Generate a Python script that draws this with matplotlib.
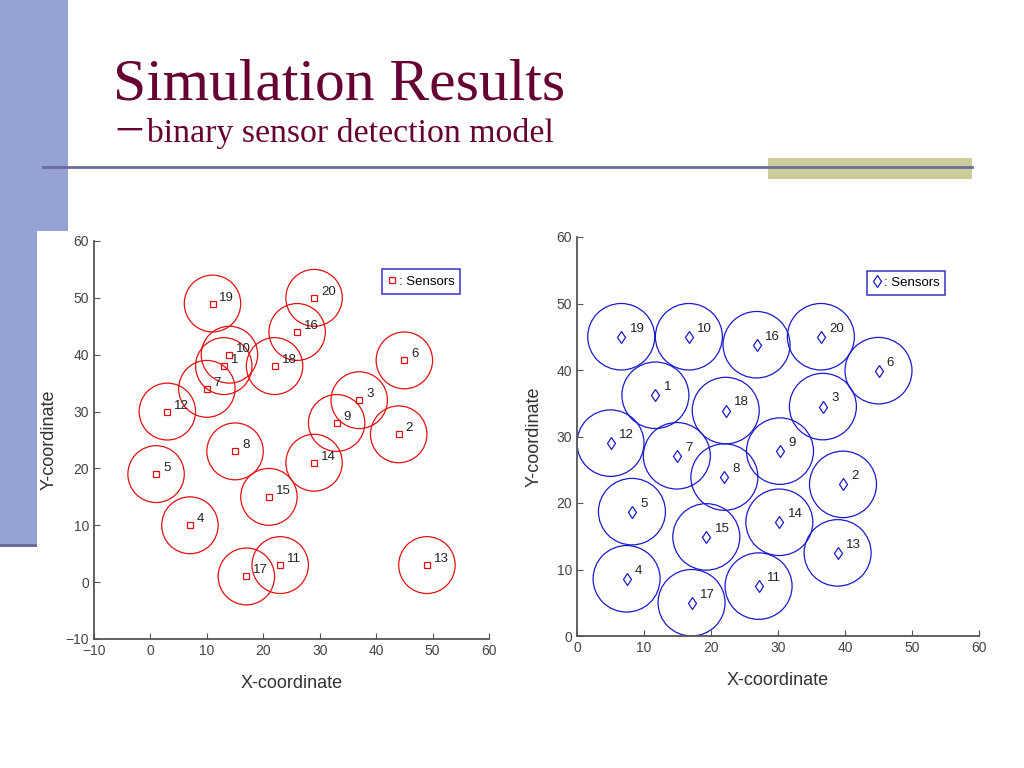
import matplotlib.pyplot as plt
from matplotlib.patches import Circle, Rectangle
from matplotlib.lines import Line2D

# sensor positions
sensor_ids = list(range(1, 21))

# random deployment (left)
rand_x = [13, 44, 37, 7, 1, 45, 10, 15, 33, 14, 23, 3, 49, 29, 21, 26, 17, 22, 11, 29]
rand_y = [38, 26, 32, 10, 19, 39, 34, 23, 28, 40, 3, 30, 3, 21, 15, 44, 1, 38, 49, 50]

# after relocation (right)
moved_x = [11.7, 39.7, 36.7, 7.4, 8.2, 45.0, 14.9, 22.0, 30.3, 16.7,
           27.1, 5.0, 38.9, 30.2, 19.3, 26.8, 17.1, 22.2, 6.6, 36.4]
moved_y = [36.2, 22.8, 34.5, 8.6, 18.7, 39.9, 27.1, 23.9, 27.8, 45.0,
           7.5, 29.0, 12.5, 17.1, 14.9, 43.8, 5.0, 33.9, 45.0, 45.0]

radius = 5
left_lim = (-10, 60)
right_lim = (0, 60)
ticks_left = [-10, 0, 10, 20, 30, 40, 50, 60]
ticks_right = [0, 10, 20, 30, 40, 50, 60]

W, H = 1024, 768


def px(x0, y0, x1, y1):
    # pixel box (top-left origin) -> figure fraction rect
    return [x0 / W, 1 - y1 / H, (x1 - x0) / W, (y1 - y0) / H]


fig = plt.figure(figsize=(W / 100, H / 100), dpi=100)
fig.patch.set_facecolor('white')

# slide decoration
fig.patches.append(Rectangle((0, 1 - 546 / H), 68 / W, 546 / H, transform=fig.transFigure,
                             facecolor='#94a3d3', edgecolor='none', zorder=0))
fig.patches.append(Rectangle((37 / W, 0), 480 / W, 1 - 231 / H, transform=fig.transFigure,
                             facecolor='white', edgecolor='none', zorder=0.5))
fig.patches.append(Rectangle((0, 1 - 547 / H), 37 / W, 3 / H, transform=fig.transFigure,
                             facecolor='#6a6c9c', edgecolor='none', zorder=0.6))
fig.patches.append(Rectangle((768 / W, 1 - 179 / H), 204 / W, 21 / H, transform=fig.transFigure,
                             facecolor='#cccc99', edgecolor='none', zorder=0.7))
fig.lines.append(Line2D([43 / W, 972 / W], [1 - 167 / H, 1 - 167 / H], transform=fig.transFigure,
                        color='#6a6c9c', linewidth=2, zorder=0.8))

fig.text(113 / W, 1 - 100 / H, 'Simulation Results', fontsize=42.8, color='#660033',
         family='Liberation Serif', ha='left', va='baseline')
fig.text(113 / W, 1 - 142 / H, '－binary sensor detection model', fontsize=24.4, color='#660033',
         family=['Liberation Serif', 'Noto Sans CJK JP'], ha='left', va='baseline')


def draw_panel(rect, xs, ys, lim, ticks, color, marker, msize, leg_anchor, ypad, off):
    ax = fig.add_axes(rect)
    ax.set_zorder(2)
    ax.set_facecolor('none')
    for i in range(len(xs)):
        ax.add_patch(Circle((xs[i], ys[i]), radius, fill=False, edgecolor=color, linewidth=0.9))
    ax.plot(xs, ys, linestyle='none', marker=marker, markersize=msize,
            markerfacecolor='none', markeredgecolor=color, markeredgewidth=0.9)
    for i, sid in enumerate(sensor_ids):
        ax.annotate(str(sid), (xs[i], ys[i]), xytext=off, textcoords='offset points',
                    fontsize=9.5, color='#222222', family='Liberation Sans',
                    ha='left', va='bottom')
    ax.set_xlim(lim)
    ax.set_ylim(lim)
    ax.set_xticks(ticks)
    ax.set_yticks(ticks)
    for s in ['top', 'right']:
        ax.spines[s].set_visible(False)
    for s in ['left', 'bottom']:
        ax.spines[s].set_color('#555555')
        ax.spines[s].set_linewidth(1.3)
    ax.tick_params(direction='in', length=4, color='#555555', labelcolor='#444444', labelsize=10)
    for lab in ax.get_xticklabels() + ax.get_yticklabels():
        lab.set_family('Liberation Sans')
    ax.set_xlabel('X-coordinate', fontsize=13, color='#333333', family='Liberation Sans', labelpad=12)
    ax.set_ylabel('Y-coordinate', fontsize=13, color='#333333', family='Liberation Sans', labelpad=ypad)
    h = Line2D([], [], linestyle='none', marker=marker, markersize=msize, markerfacecolor='none',
               markeredgecolor=color, markeredgewidth=0.9)
    leg = ax.legend([h], [': Sensors'], loc='upper right', bbox_to_anchor=leg_anchor,
                    fancybox=False, handlelength=0.6, handletextpad=0.2, borderpad=0.45,
                    prop={'family': 'Liberation Sans', 'size': 9.5}, framealpha=1)
    leg.get_frame().set_edgecolor('#3333cc')
    leg.get_frame().set_linewidth(1.1)
    return ax


draw_panel(px(94, 241, 489, 639), rand_x, rand_y, left_lim, ticks_left,
           '#e01010', 's', 4.5, (0.944, 0.945), 6, (5, 0))
draw_panel(px(577, 237, 979, 636), moved_x, moved_y, right_lim, ticks_right,
           '#1a1acc', 'd', 6.5, (0.933, 0.932), 10, (6, 1.5))

fig.savefig('out.png', dpi=100)
